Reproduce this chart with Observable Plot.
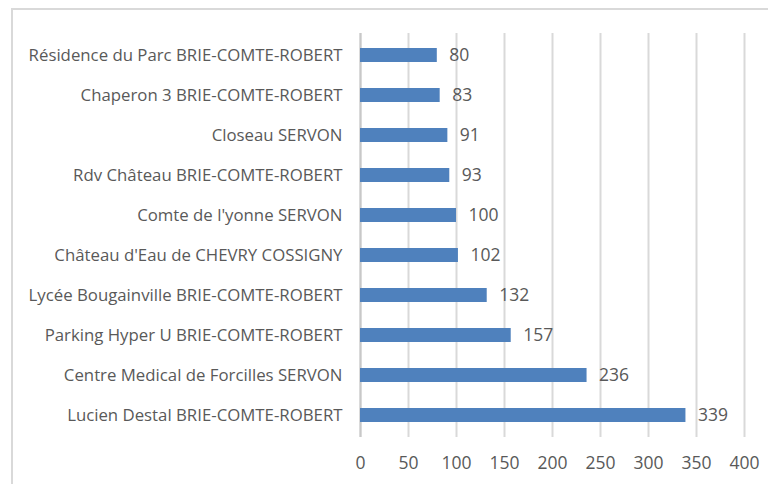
<!DOCTYPE html>
<html>
<head>
<meta charset="utf-8">
<script src="https://cdn.jsdelivr.net/npm/d3@7"></script>
<script src="https://cdn.jsdelivr.net/npm/@observablehq/plot@0.6"></script>
<style>
  html, body { margin: 0; padding: 0; background: #fff; overflow: hidden; }
  #wrap { position: relative; width: 768px; height: 484px; }
  #frame { position: absolute; left: 11px; top: 8px; width: 800px; height: 600px; border: 2px solid #d9d9d9; box-sizing: border-box; }
  #chart { position: absolute; left: 0; top: 0; }
  #chart svg g[aria-label="y-axis tick label"] text { font-size: 16.8px; }
  #chart svg g[aria-label="x-axis tick label"] text { font-size: 17.5px; }
</style>
</head>
<body>
<div id="wrap"><div id="frame"></div><div id="chart"></div></div>
<script>
const categories = [
  "Résidence du Parc BRIE-COMTE-ROBERT",
  "Chaperon 3 BRIE-COMTE-ROBERT",
  "Closeau SERVON",
  "Rdv Château BRIE-COMTE-ROBERT",
  "Comte de l'yonne SERVON",
  "Château d'Eau de CHEVRY COSSIGNY",
  "Lycée Bougainville BRIE-COMTE-ROBERT",
  "Parking Hyper U BRIE-COMTE-ROBERT",
  "Centre Medical de Forcilles SERVON",
  "Lucien Destal BRIE-COMTE-ROBERT"
];
const values = [80, 83, 91, 93, 100, 102, 132, 157, 236, 339];
const xTicks = [0, 50, 100, 150, 200, 250, 300, 350, 400];

const data = categories.map((c, i) => ({name: c, value: values[i]}));

const chart = Plot.plot({
  width: 768,
  height: 484,
  marginLeft: 360,
  marginRight: 24,
  marginTop: 33,
  marginBottom: 47,
  style: {fontFamily: "'Open Sans', sans-serif", fontSize: "16px", color: "#595959", background: "transparent"},
  x: {domain: [0, 400], ticks: xTicks, tickSize: 0, tickPadding: 19, label: null},
  y: {domain: categories, paddingInner: 0.65, paddingOuter: 0.325, tickSize: 0, tickPadding: 18, label: null},
  marks: [
    Plot.gridX(xTicks, {stroke: "#d9d9d9", strokeOpacity: 1, strokeWidth: 2}),
    Plot.ruleX([0], {stroke: "#c8c8c8", strokeWidth: 2}),
    Plot.barX(data, {x: "value", y: "name", fill: "#4f81bd"}),
    Plot.text(data, {x: "value", y: "name", text: d => String(d.value), textAnchor: "start", dx: 12, fill: "#595959", fontSize: 17.5})
  ]
});
document.getElementById("chart").appendChild(chart);
</script>
</body>
</html>
